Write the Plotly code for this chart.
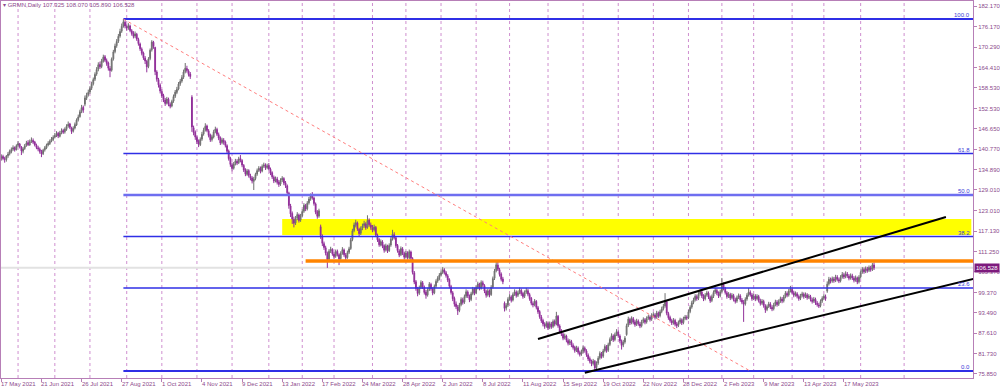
import pandas as pd
import plotly.graph_objects as go

# ---------------- data (daily GRMN bars) ----------------
OPEN = [
138.2,138.7,138.0,137.8,138.9,139.5,140.1,140.8,141.3,140.7,
141.9,142.3,141.4,140.2,141.0,141.9,142.7,142.0,143.1,143.3,
142.9,141.9,141.2,140.8,140.0,139.5,140.6,141.1,142.0,142.4,
143.2,143.6,144.3,144.9,145.4,144.5,145.6,146.2,145.8,146.5,
147.5,148.1,147.0,146.0,146.9,147.8,149.3,150.2,151.7,152.9,
153.8,155.5,156.5,157.3,158.4,159.7,161.0,162.5,163.9,165.3,
164.7,166.2,167.5,166.4,165.7,164.1,163.6,166.9,169.0,170.7,
172.0,173.5,174.9,176.4,177.5,176.3,175.9,176.4,175.0,174.3,
173.5,174.0,172.5,171.2,169.7,168.6,167.1,166.2,164.7,167.0,
169.5,171.7,170.2,163.1,160.9,159.3,157.5,156.3,155.0,154.1,
155.2,153.7,153.3,154.7,156.1,157.2,158.2,159.7,160.5,161.6,
163.2,164.1,163.4,162.5,155.8,147.0,145.7,144.2,143.1,142.1,
143.7,145.2,146.4,147.5,146.1,144.9,143.6,144.3,145.9,146.5,
145.0,144.1,142.7,143.4,142.9,141.8,140.3,138.2,136.3,135.3,
136.6,137.3,136.9,138.1,137.5,136.1,134.9,133.5,134.6,133.1,
132.5,131.5,132.3,133.6,134.7,135.2,134.5,135.9,136.3,135.5,
136.1,135.0,134.0,132.7,131.7,132.2,131.3,130.7,131.9,132.3,
131.1,130.2,128.1,124.4,122.2,120.5,119.5,120.9,121.8,120.3,
121.6,122.9,124.5,123.6,125.3,126.5,127.2,126.7,125.0,122.7,
121.5,118.4,115.7,113.5,112.3,110.7,109.0,111.4,111.8,110.5,
109.9,111.3,110.3,109.2,110.8,111.7,110.2,109.5,111.0,112.1,
114.7,117.3,118.8,119.5,117.7,116.5,118.0,118.7,119.2,118.2,
120.3,118.9,118.1,117.5,118.2,115.9,114.7,113.1,114.0,112.9,
111.7,112.8,111.5,113.1,114.9,116.1,115.2,113.0,111.4,110.3,
112.0,110.7,109.7,110.9,109.4,111.1,109.2,105.1,102.5,100.5,
99.2,100.9,102.2,100.9,99.5,98.7,100.3,101.7,100.4,99.3,
101.2,102.7,103.4,104.5,105.2,105.9,105.1,104.2,103.1,101.1,
99.3,97.7,96.1,95.2,94.2,95.9,97.3,96.6,98.3,99.5,
98.3,97.4,99.1,100.3,99.3,100.9,101.8,100.7,102.2,101.4,
99.7,98.7,99.8,98.8,101.0,103.5,105.7,107.3,106.0,104.7,
103.3,96.3,94.9,95.7,97.5,98.1,97.2,98.9,99.5,98.6,
99.4,100.0,99.1,98.3,99.5,99.9,98.8,97.7,96.2,95.9,
96.8,95.0,93.9,92.3,91.3,90.2,89.7,90.4,89.3,90.3,
89.6,91.1,90.3,92.5,89.7,88.2,87.3,86.3,86.8,85.5,
84.8,85.2,84.1,83.6,82.7,83.3,82.0,81.6,82.4,83.3,
82.5,81.3,80.3,79.4,78.9,79.5,77.7,79.0,80.5,81.7,
81.0,82.6,83.7,82.7,84.4,85.9,86.8,85.8,87.3,88.0,
86.8,85.3,84.2,85.1,87.2,89.9,91.6,90.7,91.8,90.9,
90.2,91.1,90.3,89.8,91.0,91.5,90.9,92.0,92.3,91.7,
92.9,92.9,92.3,93.4,92.7,93.9,94.7,95.5,96.7,93.3,
92.2,91.2,90.7,91.3,90.3,89.9,90.8,91.4,90.7,91.9,
92.2,92.1,93.9,95.2,96.5,97.3,98.2,97.7,99.0,99.5,
98.3,97.6,98.7,99.2,98.0,97.1,98.3,99.5,100.0,99.1,
98.5,99.7,101.7,100.5,99.3,98.3,98.8,97.9,98.5,97.3,
96.9,98.0,98.4,97.2,96.5,96.1,97.5,98.7,99.4,98.7,
97.7,98.3,97.6,98.2,97.0,96.3,96.8,95.5,94.5,95.4,
96.0,95.1,94.7,95.9,96.6,96.0,96.9,97.5,97.0,98.2,
99.1,98.7,99.9,100.3,99.3,98.7,99.0,98.2,97.7,98.5,
98.9,98.3,98.7,98.0,98.2,97.3,96.9,97.4,96.3,95.8,
95.6,96.9,97.8,98.2,99.8,101.9,103.1,102.7,103.3,102.9,
103.8,103.1,102.8,103.9,104.5,104.0,104.7,104.1,103.6,104.2,
103.5,103.0,103.6,102.5,103.9,105.3,106.0,105.5,106.2,105.8,
106.5,106.1,107.325]

HIGH = [
139.3,139.2,138.6,139.1,140.0,140.7,141.3,141.9,141.6,142.2,
143.1,142.6,141.7,141.4,142.3,143.2,143.4,143.6,144.2,143.9,
143.2,142.4,141.8,141.3,140.6,140.9,141.7,142.4,143.1,143.6,
144.3,144.8,145.5,146.0,145.8,146.1,146.8,146.7,147.1,148.0,
148.8,148.4,147.3,147.4,148.5,149.7,150.8,152.2,153.6,153.4,
156.3,157.1,158.0,159.0,160.3,161.5,163.0,164.5,165.9,166.1,
166.9,168.1,168.0,167.0,166.1,164.8,167.3,169.5,171.3,172.6,
174.1,175.6,177.1,178.4,178.0,176.9,177.2,176.8,175.5,174.9,
174.8,174.4,173.0,171.6,170.2,169.0,167.7,166.6,167.4,169.9,
172.3,172.1,170.4,163.6,161.4,159.8,158.1,156.8,155.6,155.9,
155.7,154.3,155.1,156.6,157.9,158.8,160.2,161.1,162.2,163.8,
165.7,164.9,163.9,163.1,156.4,147.6,146.2,144.7,143.6,144.2,
145.8,147.0,148.3,147.9,146.6,145.3,145.0,146.4,147.3,147.0,
145.6,144.5,144.1,144.0,143.3,142.2,140.7,138.6,136.9,137.1,
138.0,137.9,138.6,139.1,137.9,136.5,135.3,135.1,135.0,133.7,
133.0,132.8,134.0,135.2,135.9,135.8,136.4,136.9,136.7,136.6,
136.8,135.5,134.4,133.2,132.9,132.8,131.9,132.4,133.0,132.7,
131.6,130.6,128.5,125.0,122.8,121.3,121.5,122.6,122.2,122.1,
123.4,125.2,125.0,125.8,127.0,128.0,128.4,127.1,125.4,123.2,
123.6,119.0,116.2,114.1,112.9,111.2,111.9,112.6,112.2,111.1,
111.8,111.8,110.7,111.3,112.5,112.1,110.8,111.5,112.6,115.2,
117.8,119.6,120.4,119.9,118.1,118.5,119.3,120.1,119.7,121.7,
120.8,119.6,118.9,119.0,118.6,116.4,115.1,114.7,114.5,113.3,
113.5,113.2,113.6,115.4,117.5,116.8,115.6,113.4,111.9,112.7,
112.5,111.2,111.4,111.3,111.8,111.5,109.6,105.6,103.0,101.0,
101.4,102.9,102.7,101.4,100.1,100.8,102.4,102.2,100.9,101.7,
103.2,104.1,105.0,105.8,106.7,106.4,105.6,104.7,103.5,101.6,
99.8,98.2,96.8,95.8,96.4,98.0,97.9,98.8,100.3,100.0,
98.8,99.6,101.0,100.8,101.4,102.5,102.2,102.9,102.8,101.8,
100.2,100.5,100.3,101.5,104.0,106.2,108.5,108.8,106.5,105.2,
103.9,96.8,96.3,98.0,98.9,98.6,99.4,100.3,100.0,99.9,
100.8,100.5,99.6,100.0,100.7,100.4,99.3,98.1,96.8,97.5,
97.2,95.5,94.3,92.9,91.8,90.8,91.1,90.9,91.0,90.9,
91.6,91.6,93.8,92.9,90.2,88.8,87.8,87.5,87.2,86.1,
85.9,85.7,84.7,84.0,84.0,83.8,82.6,82.9,84.0,83.8,
83.0,81.8,80.9,80.0,80.2,79.9,79.5,81.0,82.4,82.2,
83.1,84.4,84.2,84.9,86.4,87.6,87.3,87.8,88.8,88.5,
87.3,85.8,85.7,86.8,90.4,92.4,92.1,92.5,92.3,91.5,
91.8,91.6,90.9,91.5,92.2,92.0,92.5,93.0,92.8,93.4,
93.7,93.4,94.1,93.9,94.4,95.3,96.1,99.2,97.1,93.8,
92.7,91.8,92.0,91.8,90.9,91.3,92.1,91.9,92.4,92.9,
92.8,94.4,95.7,97.0,97.9,98.9,98.8,99.5,100.3,100.0,
98.9,99.2,99.9,99.7,98.5,98.8,100.0,100.8,100.6,99.7,
100.2,103.6,102.3,101.0,99.8,99.5,99.3,99.2,99.0,97.9,
98.5,99.1,98.9,97.8,97.2,98.0,99.2,100.7,100.0,99.2,
99.0,98.9,98.9,98.7,97.6,97.5,97.3,96.0,95.9,96.7,
96.6,95.7,96.4,97.3,97.2,97.4,98.2,98.1,98.7,99.8,
99.7,100.4,101.3,100.8,99.9,99.7,99.5,98.8,99.0,99.6,
99.4,99.4,99.2,98.9,98.7,97.9,98.1,97.9,96.9,96.4,
97.4,98.3,98.9,98.8,102.6,103.9,103.7,104.0,103.9,104.5,
104.4,103.7,104.4,105.3,105.1,105.5,105.3,104.7,104.9,104.8,
104.1,104.3,104.0,104.4,105.8,106.7,106.6,106.9,106.8,107.2,
107.1,107.9,108.07]

LOW = [
137.5,137.6,136.9,137.2,138.3,139.0,139.6,140.3,140.1,140.4,
141.4,141.0,139.1,139.6,140.6,141.5,141.7,141.8,142.6,142.3,
141.6,140.8,140.2,139.5,138.5,139.1,140.1,140.8,141.6,142.0,
142.8,143.1,143.9,144.3,144.0,144.2,145.1,145.2,145.3,146.1,
147.0,146.6,145.2,145.6,146.5,147.5,148.8,149.9,151.2,151.3,
153.2,155.0,156.0,156.8,157.9,159.2,160.5,162.0,163.3,164.0,
164.2,165.8,166.0,164.9,163.5,161.6,163.2,166.4,168.5,170.1,
171.5,173.0,174.4,175.9,175.7,175.0,175.3,174.6,173.6,172.8,
172.9,172.1,170.7,169.2,167.9,166.6,165.4,163.0,164.2,166.5,
169.0,169.8,162.2,160.3,158.6,156.9,155.6,154.4,153.3,153.7,
153.2,152.6,152.9,154.2,155.6,156.7,157.8,159.1,160.0,161.1,
162.7,162.9,161.8,161.1,145.8,144.8,143.5,142.3,141.4,141.7,
143.2,144.7,145.9,145.7,144.2,142.9,143.0,143.9,145.4,144.6,
143.4,142.0,142.2,142.1,141.3,139.6,137.5,135.7,134.4,134.9,
136.1,136.2,136.5,137.0,135.6,134.2,133.0,133.1,132.6,131.8,
130.9,129.0,131.8,133.1,134.2,133.8,134.1,135.4,134.8,135.0,
134.6,133.3,132.2,131.0,131.2,130.6,129.9,130.2,131.3,130.4,
129.6,127.5,123.6,121.2,119.2,118.2,118.9,120.3,119.6,119.8,
121.1,122.4,122.9,123.1,124.8,125.9,126.2,124.5,122.0,120.7,
121.0,114.9,112.8,111.7,110.1,106.5,108.5,110.8,110.0,109.1,
109.4,109.8,107.3,108.8,110.3,109.7,108.6,109.1,110.5,111.7,
114.2,116.8,118.2,117.2,115.7,116.0,117.4,118.1,117.5,117.8,
118.4,117.5,116.8,117.0,115.4,114.0,112.6,112.7,112.2,110.9,
111.2,110.8,111.1,112.6,114.4,114.7,112.3,110.9,109.6,109.9,
110.2,108.9,109.2,108.9,109.0,108.6,104.6,101.8,99.9,98.3,
98.7,100.4,100.4,98.8,97.6,98.2,99.8,99.9,98.6,98.9,
100.7,102.2,102.9,104.0,104.7,104.6,103.7,102.4,100.6,98.8,
96.9,95.3,94.6,92.9,93.7,95.4,95.9,96.1,97.8,97.8,
96.6,96.9,98.6,98.6,98.9,100.3,100.0,100.2,100.9,99.2,
97.9,98.2,98.0,98.4,100.6,103.0,105.2,105.6,104.0,102.6,
101.8,93.9,94.2,95.2,97.0,96.5,96.8,98.4,97.9,98.1,
98.9,98.4,97.6,97.8,99.0,98.3,97.0,95.7,95.1,95.4,
94.5,93.2,91.8,90.6,89.6,88.9,89.2,88.6,88.8,88.9,
89.1,89.6,89.9,89.2,87.5,86.8,85.6,85.8,85.0,84.1,
84.2,83.6,82.9,82.0,82.2,81.5,80.9,81.1,81.9,82.0,
80.8,79.6,78.9,78.1,78.3,76.7,77.1,78.5,80.0,80.3,
80.5,82.1,82.0,82.2,83.9,85.4,85.1,85.3,86.8,86.3,
84.7,82.9,83.6,84.6,86.9,89.4,90.0,90.2,90.2,89.5,
89.7,89.8,89.1,89.3,90.5,90.2,90.4,91.5,91.0,91.2,
92.3,91.6,91.8,92.0,92.2,93.4,94.2,95.0,92.8,91.5,
90.7,90.0,90.1,89.6,89.1,89.4,90.3,90.0,90.2,91.4,
91.4,91.7,93.4,94.7,96.0,96.8,97.0,97.2,98.5,97.8,
96.9,97.1,98.2,97.5,96.4,96.6,97.8,99.0,98.6,97.8,
98.0,99.3,100.0,98.8,97.6,97.8,97.2,97.4,96.8,96.2,
96.4,97.5,96.7,96.0,90.9,95.6,97.0,98.2,98.2,97.0,
97.2,96.9,97.1,96.5,95.6,95.8,95.0,93.5,94.0,94.9,
94.6,94.0,94.2,95.4,95.3,95.5,96.4,96.3,96.5,97.7,
98.0,98.2,99.4,98.8,98.0,98.2,97.7,97.0,97.2,98.0,
97.6,97.8,97.3,97.5,96.8,96.2,96.4,95.8,95.3,94.9,
95.1,96.4,97.3,97.0,99.3,101.4,102.0,102.2,102.2,102.4,
102.6,102.1,102.3,103.4,103.3,103.5,103.6,102.9,103.1,103.0,
102.3,102.5,101.8,102.0,103.4,104.8,104.8,105.0,105.1,105.3,
105.4,105.6,105.89]

CLOSE = [
138.6,138.1,137.9,138.8,139.4,140.2,140.7,141.2,140.6,141.8,
142.4,141.5,140.3,140.9,141.8,142.6,142.1,143.0,143.4,142.8,
142.0,141.3,140.9,140.1,139.4,140.5,141.2,141.9,142.5,143.1,
143.7,144.2,144.8,145.3,144.6,145.5,146.1,145.7,146.6,147.4,
148.0,147.1,145.9,146.8,147.9,149.2,150.1,151.6,152.8,152.1,
155.6,156.4,157.2,158.3,159.6,160.9,162.4,163.8,165.2,164.6,
166.3,167.4,166.5,165.6,164.2,163.5,166.8,168.9,170.6,171.9,
173.4,174.8,176.3,177.6,176.4,175.8,176.5,175.1,174.2,173.4,
174.1,172.6,171.3,169.8,168.5,167.2,166.3,164.6,166.9,169.4,
171.8,170.5,163.2,161.0,159.4,157.6,156.2,155.1,154.0,155.3,
153.8,153.2,154.6,156.0,157.3,158.1,159.6,160.4,161.5,163.1,
164.2,163.5,162.4,161.8,147.2,145.6,144.3,143.0,142.2,143.6,
145.1,146.3,147.4,146.2,144.8,143.5,144.4,145.8,146.6,145.1,
144.0,142.6,143.5,142.8,141.9,140.2,138.1,136.4,135.2,136.5,
137.4,136.8,138.0,137.6,136.2,134.8,133.6,134.5,133.2,132.4,
131.6,132.2,133.5,134.6,135.3,134.4,135.8,136.2,135.4,136.0,
135.1,133.9,132.8,131.6,132.3,131.2,130.6,131.8,132.4,131.0,
130.3,128.2,124.5,122.1,120.6,119.4,120.8,121.9,120.2,121.5,
122.8,124.6,123.5,125.2,126.4,127.3,126.8,125.1,122.6,121.4,
123.0,115.8,113.6,112.4,110.8,108.9,111.3,111.9,110.6,109.8,
111.2,110.4,109.1,110.7,111.8,110.3,109.4,110.9,112.0,114.6,
117.2,118.9,119.6,117.8,116.4,117.9,118.6,119.3,118.1,120.2,
119.0,118.2,117.4,118.3,116.0,114.6,113.2,114.1,112.8,111.6,
112.9,111.4,113.0,114.8,116.2,115.3,112.9,111.5,110.2,112.1,
110.8,109.6,110.8,109.5,111.2,109.3,105.2,102.4,100.6,99.1,
100.8,102.3,101.0,99.4,98.6,100.2,101.8,100.5,99.2,101.1,
102.6,103.5,104.4,105.1,106.0,105.2,104.3,103.0,101.2,99.4,
97.6,96.0,95.3,94.1,95.8,97.4,96.5,98.2,99.6,98.4,
97.3,99.0,100.4,99.2,100.8,101.9,100.6,102.3,101.5,99.8,
98.6,99.9,98.7,100.9,103.4,105.6,107.4,106.1,104.6,103.2,
102.5,94.8,95.6,97.4,98.2,97.1,98.8,99.6,98.5,99.3,
100.1,99.0,98.2,99.4,100.0,98.9,97.6,96.3,95.8,96.9,
95.1,93.8,92.4,91.2,90.3,89.6,90.5,89.2,90.4,89.5,
91.0,90.2,92.6,89.8,88.1,87.4,86.2,86.9,85.6,84.7,
85.3,84.2,83.5,82.6,83.4,82.1,81.5,82.3,83.4,82.6,
81.4,80.2,79.5,78.8,79.6,77.6,78.9,80.4,81.8,80.9,
82.5,83.8,82.6,84.3,85.8,86.9,85.7,87.2,88.1,86.9,
85.4,84.1,85.0,86.2,89.8,91.7,90.6,91.9,90.8,90.1,
91.2,90.4,89.7,90.9,91.6,90.8,91.9,92.4,91.6,92.8,
93.0,92.2,93.5,92.6,93.8,94.6,95.4,96.8,93.4,92.1,
91.3,90.6,91.4,90.2,89.8,90.7,91.5,90.6,91.8,92.3,
92.0,93.8,95.1,96.4,97.2,98.3,97.6,98.9,99.6,98.4,
97.5,98.6,99.3,98.1,97.0,98.2,99.4,100.1,99.2,98.4,
99.6,101.8,100.6,99.4,98.2,98.9,97.8,98.6,97.4,96.8,
97.9,98.5,97.3,96.6,96.0,97.4,98.6,99.5,98.8,97.6,
98.4,97.5,98.3,97.1,96.2,96.9,95.6,94.4,95.3,96.1,
95.2,94.6,95.8,96.7,95.9,96.8,97.6,96.9,98.1,99.2,
98.6,99.8,100.4,99.4,98.6,99.1,98.3,97.6,98.4,99.0,
98.2,98.8,97.9,98.3,97.4,96.8,97.5,96.4,95.9,95.5,
96.8,97.7,98.3,97.6,101.8,103.2,102.6,103.4,102.8,103.9,
103.2,102.7,103.8,104.6,103.9,104.8,104.2,103.5,104.3,103.6,
102.9,103.7,102.4,103.8,105.2,106.1,105.4,106.3,105.7,106.6,
106.0,107.3,106.528]

FIRST_DATE = "2021-05-17"
MARKET_HOLIDAYS = ["2021-05-31", "2021-07-05", "2021-09-06", "2021-11-25", "2021-12-24",
                   "2022-01-17", "2022-02-21", "2022-04-15", "2022-05-30", "2022-06-20",
                   "2022-07-04", "2022-09-05", "2022-11-24", "2022-12-26", "2023-01-02",
                   "2023-01-16", "2023-02-20", "2023-04-07", "2023-05-29", "2023-06-19"]

X_TICK_LABELS = ["17 May 2021", "21 Jun 2021", "26 Jul 2021", "27 Aug 2021", "1 Oct 2021",
                 "4 Nov 2021", "9 Dec 2021", "13 Jan 2022", "17 Feb 2022", "24 Mar 2022",
                 "28 Apr 2022", "2 Jun 2022", "8 Jul 2022", "11 Aug 2022", "15 Sep 2022",
                 "19 Oct 2022", "22 Nov 2022", "28 Dec 2022", "2 Feb 2023", "9 Mar 2023",
                 "13 Apr 2023", "17 May 2023"]
Y_TICK_VALUES = [182.17, 176.17, 170.29, 164.41, 158.53, 152.53, 146.65, 140.77, 134.89,
                 129.01, 123.01, 117.13, 111.25, 105.37, 99.37, 93.49, 87.61, 81.73, 75.85]
FUTURE_GRID_DATES = ["2023-07-01"]

FIB_RATIOS = [0.0, 0.236, 0.382, 0.5, 0.618, 1.0]
FIB_NAMES = ["0.0", "23.6", "38.2", "50.0", "61.8", "100.0"]
FIB_START_DATE = "2021-08-30"
FIB_END_DATE = "2023-02-27"

ZONE_START_DATE = "2022-01-13"
ZONE_LOW, ZONE_HIGH = 116.0, 120.6
RESIST_START_DATE = "2022-02-03"
RESIST_LEVEL = 108.5
UPPER_CHANNEL = [("2022-08-24", 85.96), ("2023-07-26", 121.2)]
LOWER_CHANNEL = [("2022-10-04", 76.22), ("2023-08-17", 103.97)]

SYMBOL = "GRMN,Daily"

# ---------------- calendar ----------------
n = len(CLOSE)
assert len(OPEN) == n and len(HIGH) == n and len(LOW) == n
HIGH = [max(h, o, c) for h, o, c in zip(HIGH, OPEN, CLOSE)]
LOW = [min(l, o, c) for l, o, c in zip(LOW, OPEN, CLOSE)]
dates = pd.bdate_range(FIRST_DATE, periods=n, freq="C", holidays=MARKET_HOLIDAYS)
pos = {d.strftime("%Y-%m-%d"): i for i, d in enumerate(dates)}
xs = list(range(n))


def date_to_x(s):
    """Bar position of a date; future dates are extended by calendar days (as the terminal does)."""
    if s in pos:
        return pos[s]
    ts = pd.Timestamp(s)
    if ts > dates[-1]:
        return n - 1 + (ts - dates[-1]).days
    return int(dates.searchsorted(ts))


X_MIN, X_MAX = -0.2, 581.2
Y_MIN, Y_MAX = 74.685, 183.614

# ---------------- colours ----------------
FRAME = "#b77fb7"
TEXT = "#8c4a8c"
GRID = "#cf8fcf"
FIB_BLUE = "#2f2fe6"
FONT = "Liberation Sans, Arial, sans-serif"

fig = go.Figure()
fig.add_trace(go.Candlestick(
    x=xs, open=OPEN, high=HIGH, low=LOW, close=CLOSE,
    increasing=dict(line=dict(color="#6f6f6f", width=1), fillcolor="#8a8a8a"),
    decreasing=dict(line=dict(color="#92309a", width=1), fillcolor="#82127f"),
    whiskerwidth=0, hoverinfo="skip", showlegend=False,
))

shapes = []
# monthly vertical dotted grid
month_starts = []
seen = set()
for i, d in enumerate(dates):
    key = (d.year, d.month)
    if key not in seen:
        seen.add(key)
        if i > 0:
            month_starts.append(i)
month_starts += [date_to_x(s) for s in FUTURE_GRID_DATES]
for gx in month_starts:
    shapes.append(dict(type="line", xref="x", yref="paper", x0=gx, x1=gx, y0=0, y1=1,
                       line=dict(color=GRID, width=1, dash="dot"), layer="below"))

# yellow supply zone
shapes.append(dict(type="rect", xref="x", yref="y", x0=date_to_x(ZONE_START_DATE), x1=X_MAX - 1,
                   y0=ZONE_LOW, y1=ZONE_HIGH, fillcolor="#ffff00", line=dict(width=0), layer="below"))
# last price line
shapes.append(dict(type="line", xref="paper", yref="y", x0=0, x1=1, y0=CLOSE[-1], y1=CLOSE[-1],
                   line=dict(color="#e2e2e2", width=2), layer="below"))

# fibonacci
fib_hi = max(HIGH)
fib_lo = min(LOW)
fx0 = date_to_x(FIB_START_DATE)
fx1 = date_to_x(FIB_END_DATE)
fib_styles = {"50.0": ("#6e6ef0", 2.5), "100.0": (FIB_BLUE, 2), "0.0": (FIB_BLUE, 2)}
fib_levels = []
for r, name in zip(FIB_RATIOS, FIB_NAMES):
    lvl = fib_lo + r * (fib_hi - fib_lo)
    fib_levels.append((lvl, name))
    col, w = fib_styles.get(name, (FIB_BLUE, 1.5))
    shapes.append(dict(type="line", xref="x", yref="y", x0=fx0, x1=X_MAX, y0=lvl, y1=lvl,
                       line=dict(color=col, width=w)))
shapes.append(dict(type="line", xref="x", yref="y", x0=fx0, x1=fx1, y0=fib_hi, y1=fib_lo,
                   line=dict(color="#ff7d7d", width=1, dash="dot")))

# horizontal resistance
shapes.append(dict(type="line", xref="x", yref="y", x0=date_to_x(RESIST_START_DATE), x1=X_MAX,
                   y0=RESIST_LEVEL, y1=RESIST_LEVEL, line=dict(color="#ff8400", width=3.5)))
# channel
for (d0, v0), (d1, v1) in (UPPER_CHANNEL, LOWER_CHANNEL):
    shapes.append(dict(type="line", xref="x", yref="y", x0=date_to_x(d0), x1=date_to_x(d1),
                       y0=v0, y1=v1, line=dict(color="#000000", width=2)))

annotations = []
# header
annotations.append(dict(xref="paper", yref="paper", x=0.001, y=0.9895, xanchor="left", yanchor="middle",
                        text="▾ %s %.3f %.3f %.3f %.3f" % (SYMBOL, OPEN[-1], HIGH[-1], LOW[-1], CLOSE[-1]),
                        showarrow=False, font=dict(family=FONT, size=6, color=TEXT), borderpad=0))
# fib labels
for lvl, name in fib_levels:
    annotations.append(dict(xref="paper", yref="y", x=0.998, y=lvl, xanchor="right", yanchor="bottom",
                            text=name, showarrow=False, borderpad=0,
                            font=dict(family=FONT, size=6, color="#3a3ad8")))
# date labels
tick_x = []
for lab in X_TICK_LABELS:
    tx = date_to_x(pd.Timestamp(lab).strftime("%Y-%m-%d"))
    tick_x.append(tx)
    annotations.append(dict(xref="x", yref="paper", x=tx, y=0, xanchor="left", yanchor="top",
                            yshift=-2, xshift=-1, text=lab, showarrow=False, borderpad=0,
                            font=dict(family=FONT, size=6, color=TEXT)))
# current price box
annotations.append(dict(xref="paper", yref="y", x=1, y=CLOSE[-1], xanchor="left", yanchor="middle",
                        xshift=1, text="%.3f" % CLOSE[-1], showarrow=False, bgcolor="#7d1a7d",
                        borderpad=1, font=dict(family=FONT, size=6, color="#ffffff")))

fig.update_layout(
    width=1000, height=392,
    margin=dict(l=1, r=27, t=1, b=14, pad=0),
    paper_bgcolor="#ffffff", plot_bgcolor="#ffffff",
    showlegend=False, hovermode=False,
    shapes=shapes, annotations=annotations,
    xaxis=dict(range=[X_MIN, X_MAX], rangeslider=dict(visible=False), showgrid=False, zeroline=False,
               showline=True, mirror=True, linecolor=FRAME, linewidth=1,
               tickmode="array", tickvals=tick_x, ticks="outside", ticklen=3, tickcolor=FRAME,
               showticklabels=False, fixedrange=True),
    yaxis=dict(range=[Y_MIN, Y_MAX], side="right", showgrid=False, zeroline=False,
               showline=True, mirror=True, linecolor=FRAME, linewidth=1,
               tickmode="array", tickvals=Y_TICK_VALUES, ticktext=["%.3f" % v for v in Y_TICK_VALUES],
               ticks="outside", ticklen=3, tickcolor=FRAME, automargin=False,
               tickfont=dict(family=FONT, size=6, color=TEXT), fixedrange=True),
)

fig.write_html(
    "out.html",
    config={"displayModeBar": False, "staticPlot": True},
    post_script="document.body.style.margin='0';document.body.style.padding='0';"
                "document.body.style.overflow='hidden';",
)
